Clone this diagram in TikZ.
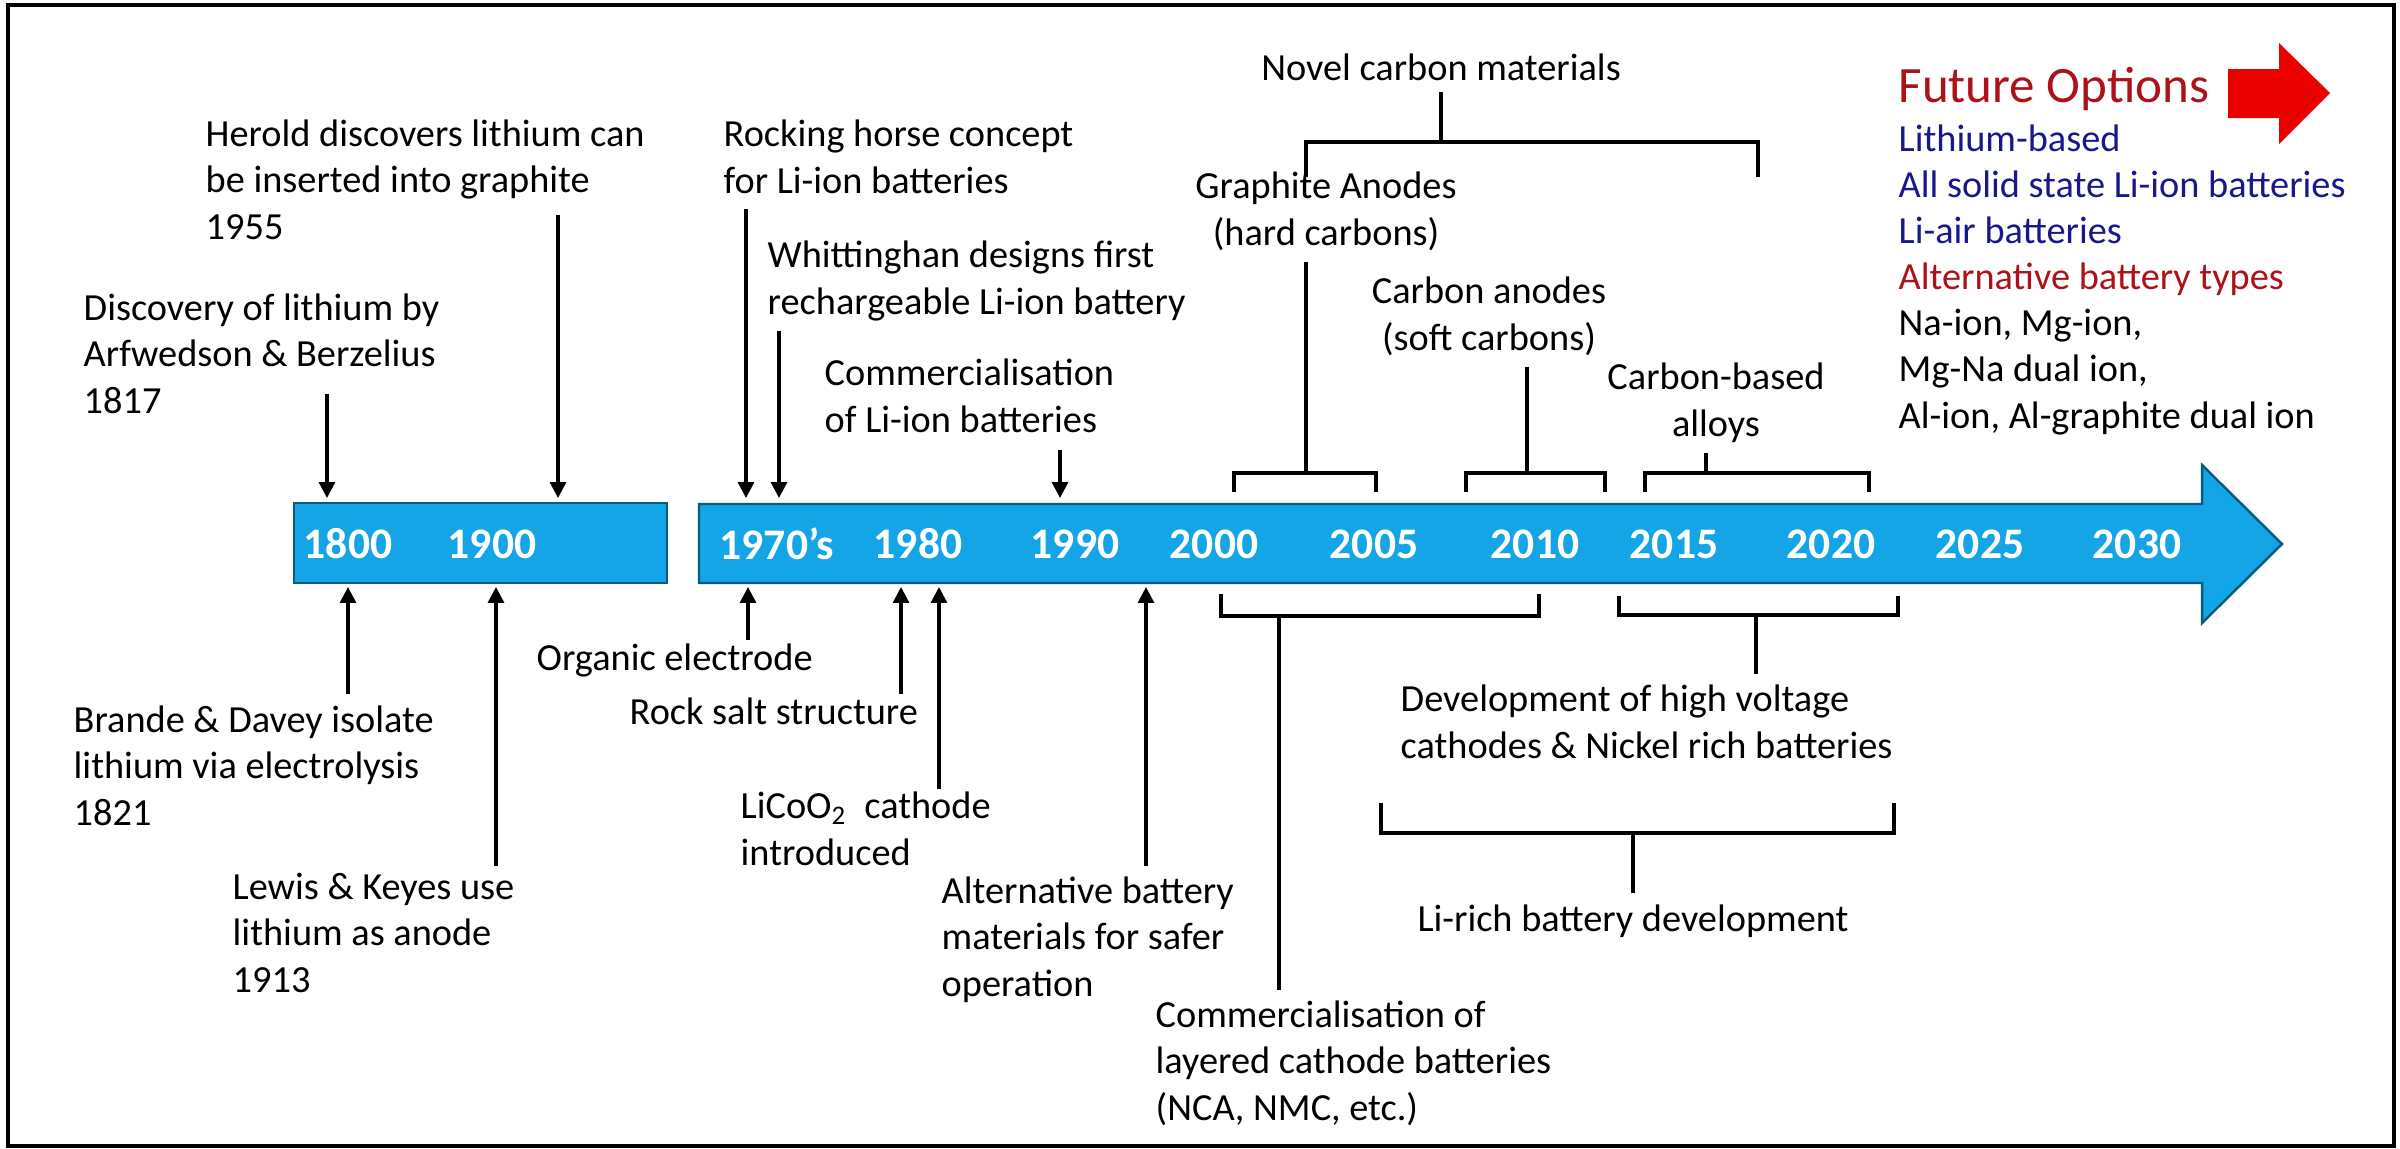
\documentclass[tikz,border=0pt]{standalone}
\usepackage{fontspec}
\setmainfont{Carlito}
\usetikzlibrary{arrows.meta,calc}
\definecolor{barblue}{RGB}{20,165,231}
\definecolor{navyblue}{RGB}{24,24,140}
\definecolor{darkred}{RGB}{172,18,24}
\tikzset{
  lbl/.style={font=\fontsize{10.9}{13.1}\selectfont, align=left, anchor=base west, inner xsep=0pt, inner ysep=3pt},
  clbl/.style={lbl, align=center, anchor=base},
  yr/.style={font=\fontsize{12.4}{14}\selectfont\bfseries, text=white, inner sep=0pt},
  evt/.style={line width=0.9pt, -{Triangle[length=4.5pt,width=4.5pt]}},
  brk/.style={line width=1pt},
  bar/.style={fill=barblue, draw=barblue!55!black, line width=0.7pt},
}
\begin{document}
\begin{tikzpicture}[x=0.01cm, y=-0.01cm]
      \useasboundingbox (0,0) rectangle (2400,1148);
      \draw[line width=1.3pt] (8,5) rectangle (2394,1146);

      % time line
      \draw[bar] (294,503) rectangle (667,583);
      \draw[bar] (699,504) -- (2202,504) -- (2202,465) -- (2282,544)
         -- (2202,623) -- (2202,583) -- (699,583) -- cycle;
      \coordinate (bartop) at (0,498);
      \coordinate (barbot) at (0,587);
      \foreach \yr/\x in {1800/348, 1900/492, 1980/918, 1990/1075, 2000/1214, 2005/1374,
          2010/1535, 2015/1674, 2020/1831, 2025/1980, 2030/2137}
        \node[yr] (y\yr) at (\x,544) {\yr};
      \node[yr] (y1970) at (777,544) {1970’s};

      % events above (base = last line)
      \node[lbl] (disc) at (83,413) {Discovery of lithium by\\Arfwedson \& Berzelius\\1817};
      \node[lbl] (herold) at (205,239) {Herold discovers lithium can\\be inserted into graphite\\1955};
      \node[lbl] (rocking) at (723,193) {Rocking horse concept\\for Li-ion batteries};
      \node[lbl] (whit) at (767,314) {Whittinghan designs first\\rechargeable Li-ion battery};
      \node[lbl] (comli) at (824,432) {Commercialisation\\of Li-ion batteries};
      \foreach \n/\x/\y in {t1817/327/394, t1955/558/215, t1970/746/209, t1972/779/331, t1991/1060/450}
        \draw[evt] (\x,\y) coordinate (\n) -- (\n |- bartop);

      % events below
      \node[lbl] (brande) at (73,825) {Brande \& Davey isolate\\lithium via electrolysis\\1821};
      \node[lbl] (lewis) at (232,992) {Lewis \& Keyes use\\lithium as anode\\1913};
      \node[lbl] (organic) at (536,670) {Organic electrode};
      \node[lbl] (rocksalt) at (629,724) {Rock salt structure};
      \node[lbl] (licoo) at (740,865) {LiCoO\textsubscript{2}\ \ cathode\\introduced};
      \node[lbl] (altmat) at (941,996) {Alternative battery\\materials for safer\\operation};
      \foreach \n/\x/\y in {t1821/348/694, t1913/496/866, t1978/748/640, t1980/901/694, t1982/939/789, t1995/1146/866}
        \draw[evt] (\x,\y) coordinate (\n) -- (\n |- barbot);

      % carbon materials
      \node[clbl] (novel) at (1441,80) {Novel carbon materials};
      \node[clbl] (graph) at (1326,245) {Graphite Anodes\\(hard carbons)};
      \node[clbl] (soft) at (1489,350) {Carbon anodes\\(soft carbons)};
      \node[clbl] (alloy) at (1716,436) {Carbon-based\\alloys};
      \coordinate (nbr) at (1441,142);
      \coordinate (gbr) at (1306,473);
      \coordinate (sbr) at (1527,473);
      \coordinate (abr) at (1706,473);
      \draw[brk] (1306,177) |- (1758,142) -- (1758,177);
      \draw[brk] (1234,492) |- (1376,473) -- (1376,492);
      \draw[brk] (1466,492) |- (1605,473) -- (1605,492);
      \draw[brk] (1645,492) |- (1869,473) -- (1869,492);
      \draw[brk] (novel.south -| nbr) -- (nbr);
      \draw[brk] (graph.south -| gbr) -- (gbr);
      \draw[brk] (soft.south -| sbr) -- (sbr);
      \draw[brk] (alloy.south -| abr) -- (abr);

      % cathodes
      \node[lbl] (layered) at (1155,1120) {Commercialisation of\\layered cathode batteries\\(NCA, NMC, etc.)};
      \node[lbl] (hivolt) at (1400,758) {Development of high voltage\\cathodes \& Nickel rich batteries};
      \node[clbl] (lirich) at (1633,931) {Li-rich battery development};
      \coordinate (lbr) at (1279,616);
      \coordinate (hbr) at (1756,615);
      \coordinate (rbr) at (1633,833);
      \draw[brk] (1221,594) |- (1539,616) -- (1539,594);
      \draw[brk] (1619,596) |- (1898,615) -- (1898,596);
      \draw[brk] (1381,803) |- (1894,833) -- (1894,803);
      \draw[brk] (lbr) -- (layered.north -| lbr);
      \draw[brk] (hbr) -- (hivolt.north -| hbr);
      \draw[brk] (rbr) -- (lirich.north -| rbr);

      % future
      \node[lbl, font=\fontsize{14.5}{17}\selectfont, text=darkred] (future) at (1898,102) {Future Options};
      \fill[red!92!black] (2228,69) -- (2279,69) -- (2279,43) -- (2330,93) -- (2279,144)
         -- (2279,118) -- (2228,118) -- cycle;
      \node[lbl] (opts) at (1898,428) {\textcolor{navyblue}{Lithium-based}\\
        \textcolor{navyblue}{All solid state Li-ion batteries}\\
        \textcolor{navyblue}{Li-air batteries}\\
        \textcolor{darkred}{Alternative battery types}\\
        Na-ion, Mg-ion,\\
        Mg-Na dual ion,\\
        Al-ion, Al-graphite dual ion};
\end{tikzpicture}
\end{document}
